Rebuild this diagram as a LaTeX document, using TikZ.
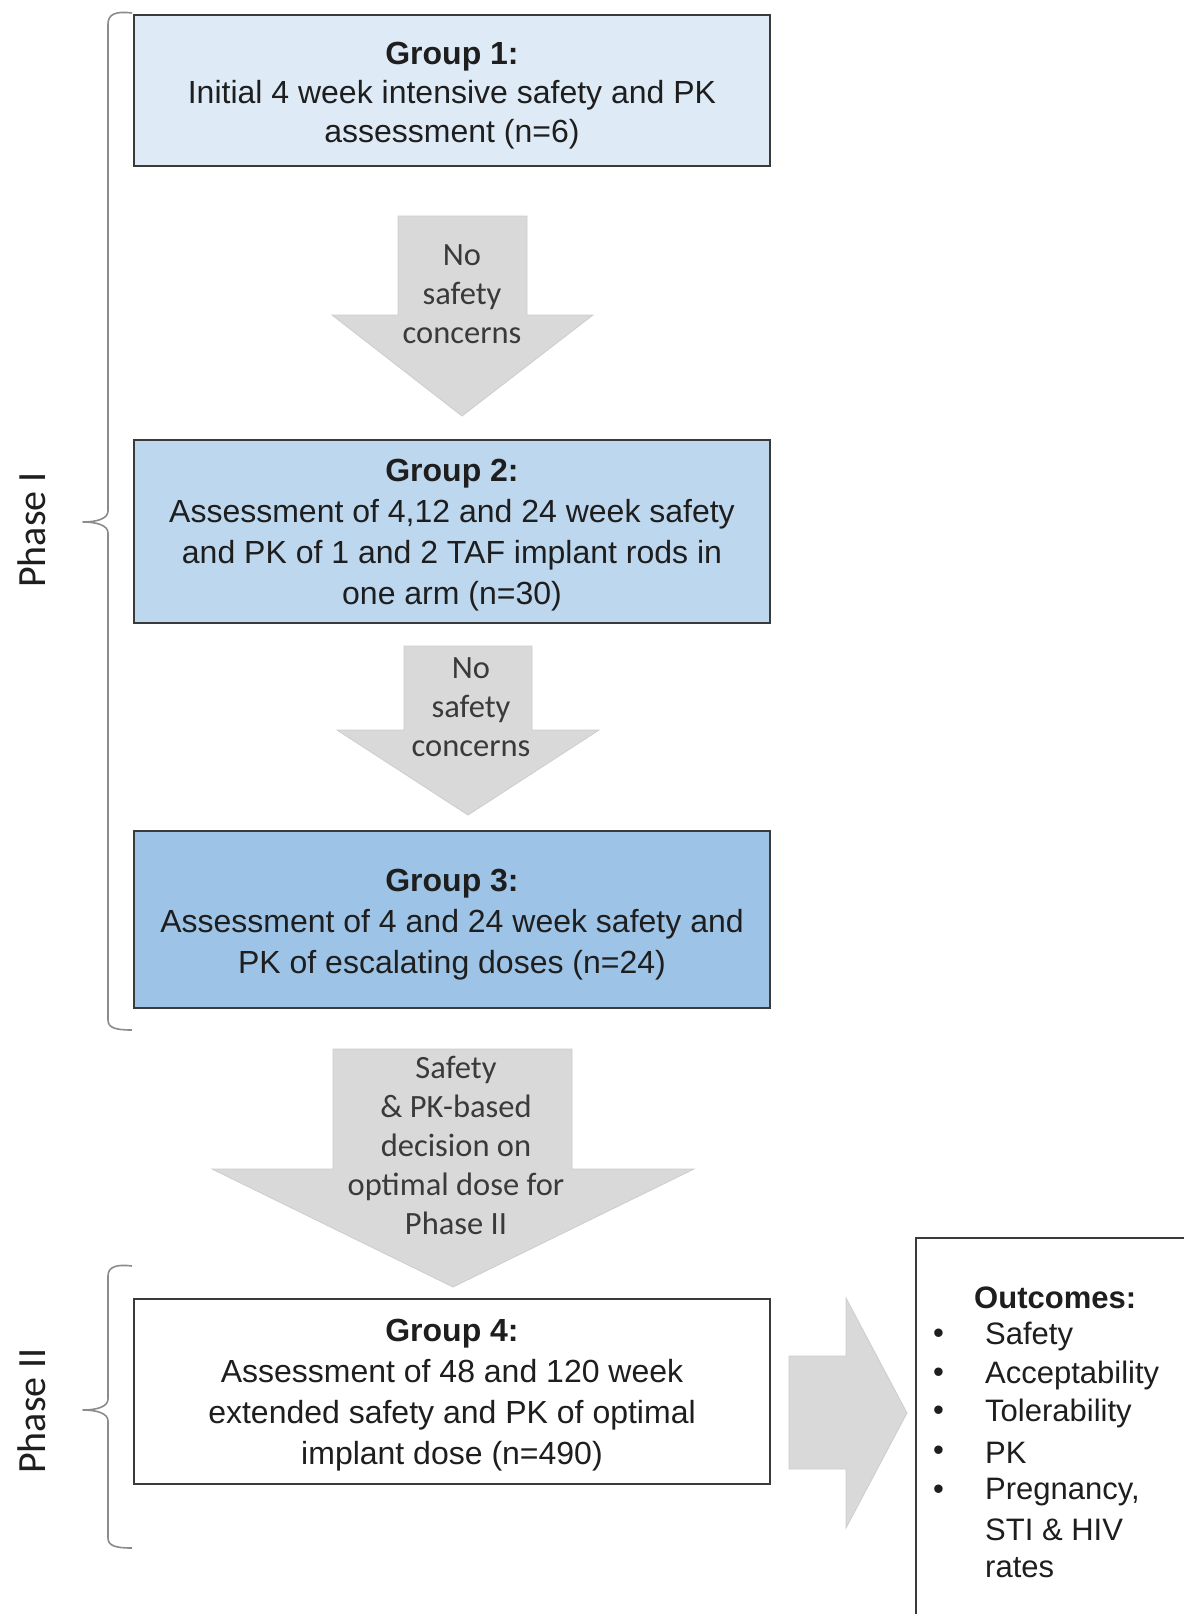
\documentclass[tikz,border=0pt]{standalone}
\usepackage{fontspec}
\setmainfont{Liberation Sans}
\newfontfamily\calib{Carlito}
\definecolor{gonec}{HTML}{DEEBF7}
\definecolor{gtwoc}{HTML}{BDD7EE}
\definecolor{gthreec}{HTML}{9DC3E6}
\definecolor{boxline}{HTML}{3A3A3A}
\definecolor{arrgray}{HTML}{D9D9D9}
\definecolor{arredge}{HTML}{CDCDCD}
\definecolor{bracegray}{HTML}{8C8C8C}
\definecolor{txtc}{HTML}{1E1E1E}
\definecolor{arrtxt}{HTML}{3A3A3A}
\begin{document}
\begin{tikzpicture}[x=1pt,y=-1pt,
  gbox/.style={draw=boxline, line width=2.5pt, minimum width=636pt, inner sep=0pt},
  gtext/.style={align=center, inner sep=0pt, text=txtc, font=\fontsize{32}{41}\selectfont},
  blockarr/.style={fill=arrgray, draw=arredge, line width=0.8pt},
  arrlbl/.style={align=center, inner sep=0pt, text=arrtxt, font=\calib\fontsize{32.5}{39}\selectfont},
  bracepath/.style={draw=bracegray, line width=1.6pt, line join=round},
  phaselbl/.style={rotate=90, inner sep=0pt, text=txtc, font=\calib\fontsize{40}{44}\selectfont},
  outtxt/.style={anchor=west, inner sep=0pt, text=txtc, font=\fontsize{31}{39}\selectfont}]
\useasboundingbox (0,0) rectangle (1184,1614);
\fill[white] (0,0) rectangle (1184,1614);

% Phase I bracket
\draw[bracepath] (132,13) .. controls (116,11) and (108,14) .. (108,24)
  -- (108,511) .. controls (108,519) and (96,522) .. (83,522)
  .. controls (96,522) and (108,525) .. (108,533)
  -- (108,1020) .. controls (108,1028) and (116,1030) .. (132,1030);
\node[phaselbl] (ph1) at (32,530) {Phase I};

% Phase II bracket
\draw[bracepath] (132,1266) .. controls (116,1264) and (108,1267) .. (108,1276)
  -- (108,1399) .. controls (108,1407) and (96,1410) .. (83,1410)
  .. controls (96,1410) and (108,1413) .. (108,1421)
  -- (108,1538) .. controls (108,1546) and (116,1548) .. (132,1548);
\node[phaselbl] (ph2) at (32,1411) {Phase II};

% Group boxes
\node[gbox, fill=gonec, minimum height=151pt] (g1) at (452,90.5) {};
\node[gtext, font=\fontsize{32}{39}\selectfont] (g1t) at ([yshift=-5pt]g1.center)
  {\textbf{Group 1:}\\Initial 4 week intensive safety and PK\\assessment (n=6)};
\node[gbox, fill=gtwoc, minimum height=183pt] (g2) at (452,531.5) {};
\node[gtext] (g2t) at ([yshift=-4pt]g2.center)
  {\textbf{Group 2:}\\Assessment of 4,12 and 24 week safety\\and PK of 1 and 2 TAF implant rods in\\one arm (n=30)};
\node[gbox, fill=gthreec, minimum height=177pt] (g3) at (452,919.5) {};
\node[gtext] (g3t) at ([yshift=-5pt]g3.center)
  {\textbf{Group 3:}\\Assessment of 4 and 24 week safety and\\PK of escalating doses (n=24)};
\node[gbox, fill=white, minimum height=185pt] (g4) at (452,1391.5) {};
\node[gtext] (g4t) at ([yshift=-4pt]g4.center)
  {\textbf{Group 4:}\\Assessment of 48 and 120 week\\extended safety and PK of optimal\\implant dose (n=490)};

% Block arrows
\draw[blockarr] (398,216) -- (527,216) -- (527,315) -- (593,315) -- (462,416)
  -- (332,315) -- (398,315) -- cycle;
\node[arrlbl] (a1) at (462,294) {No\\safety\\concerns};

\draw[blockarr] (404,646) -- (532,646) -- (532,730) -- (599,730) -- (468,815)
  -- (337,730) -- (404,730) -- cycle;
\node[arrlbl] (a2) at (471,707) {No\\safety\\concerns};

\draw[blockarr] (333,1049) -- (572,1049) -- (572,1169) -- (694,1169) -- (453,1287)
  -- (212,1169) -- (333,1169) -- cycle;
\node[arrlbl] (a3) at (456,1145) {Safety\\\& PK-based\\decision on\\optimal dose for\\Phase II};

\draw[blockarr] (789,1356) -- (846,1356) -- (846,1298) -- (907,1413) -- (846,1528)
  -- (846,1469) -- (789,1469) -- cycle;

% Outcomes box (extends past the picture edges)
\coordinate (ob) at (916,1238);
\draw[boxline, line width=1.4pt] (916,1614) -- (ob) -- (1184,1238);
\node[outtxt, font=\bfseries\fontsize{31}{39}\selectfont] (oh) at (974,1298) {Outcomes:};
\foreach \y/\t [count=\i] in {1336/Safety, 1375/Acceptability, 1413/Tolerability, 1453/PK, 1492/{Pregnancy,}} {
  \node[outtxt] (ob\i) at (933,\y) {•};
  \node[outtxt] (oi\i) at (985,\y) {\t};
}
\node[outtxt] (oi6) at (985,1530) {STI \& HIV};
\node[outtxt] (oi7) at (985,1568) {rates};
\end{tikzpicture}
\end{document}
